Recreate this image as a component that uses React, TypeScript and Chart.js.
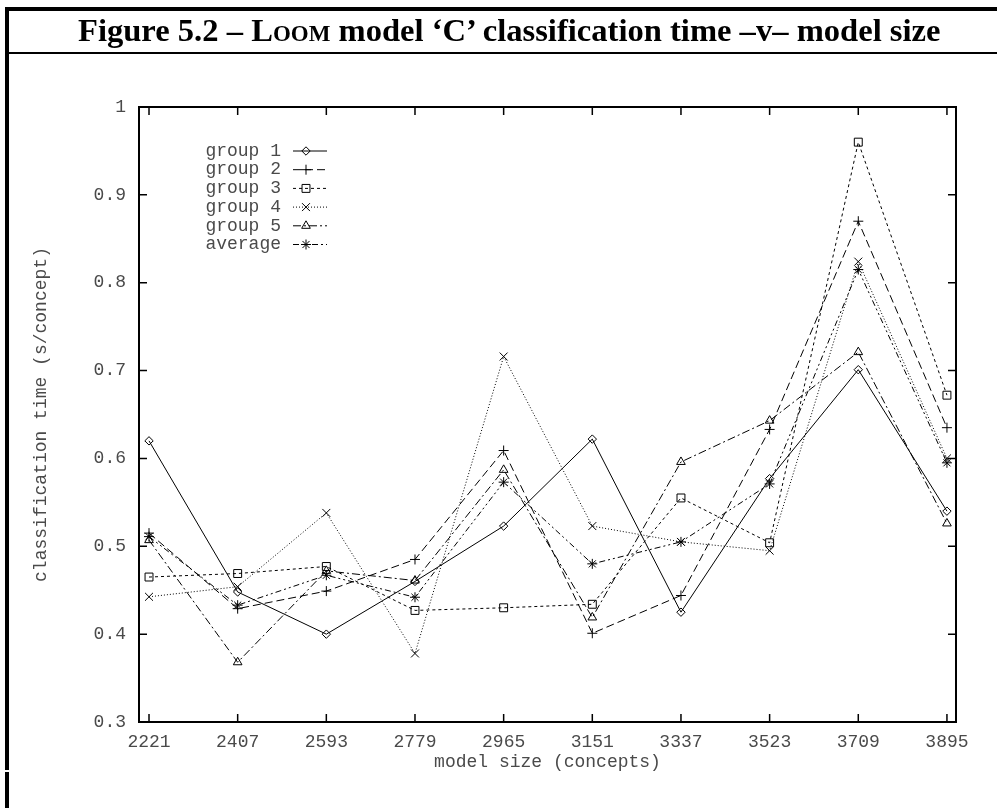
import React, { useEffect, useRef } from "react";
import { Chart, registerables } from "chart.js";

Chart.register(...registerables);

// ---- data ----
const xValues = [2221, 2407, 2593, 2779, 2965, 3151, 3337, 3523, 3709, 3895];
const xTickLabels = ["2221", "2407", "2593", "2779", "2965", "3151", "3337", "3523", "3709", "3895"];
const yTicks = [0.3, 0.4, 0.5, 0.6, 0.7, 0.8, 0.9, 1];
const yTickLabels = ["0.3", "0.4", "0.5", "0.6", "0.7", "0.8", "0.9", "1"];

const group1 = [0.62, 0.448, 0.4, 0.46, 0.523, 0.622, 0.425, 0.577, 0.701, 0.54];
const group2 = [0.515, 0.429, 0.449, 0.485, 0.609, 0.401, 0.444, 0.633, 0.87, 0.635];
const group3 = [0.465, 0.469, 0.477, 0.427, 0.43, 0.434, 0.555, 0.504, 0.96, 0.672];
const group4 = [0.4425, 0.454, 0.538, 0.378, 0.716, 0.523, 0.505, 0.495, 0.824, 0.6];
const group5 = [0.507, 0.368, 0.472, 0.461, 0.587, 0.419, 0.596, 0.643, 0.721, 0.526];
const average = [0.511, 0.433, 0.467, 0.442, 0.573, 0.48, 0.505, 0.571, 0.815, 0.595];

const seriesNames = ["group 1", "group 2", "group 3", "group 4", "group 5", "average"];
const seriesValues = [group1, group2, group3, group4, group5, average];
const seriesPoints = ["rectRot", "cross", "rect", "crossRot", "triangle", "star"];
const seriesRadius = [4.2, 5, 5.6, 5.6, 5, 5];
const seriesDash: number[][] = [[], [8, 4], [3, 3], [1, 2], [8, 3, 2, 3], [6, 3, 2, 3, 2, 3]];

const TEXT_COLOR = "#4a4a4a";
const MONO = "'Liberation Mono', 'DejaVu Sans Mono', monospace";

function drawMarker(ctx: CanvasRenderingContext2D, style: string, x: number, y: number, r: number) {
  ctx.beginPath();
  const d = Math.SQRT1_2 * r;
  switch (style) {
    case "rectRot":
      ctx.moveTo(x, y - r);
      ctx.lineTo(x + r, y);
      ctx.lineTo(x, y + r);
      ctx.lineTo(x - r, y);
      ctx.closePath();
      break;
    case "rect":
      ctx.rect(x - d, y - d, 2 * d, 2 * d);
      break;
    case "cross":
      ctx.moveTo(x - r, y);
      ctx.lineTo(x + r, y);
      ctx.moveTo(x, y - r);
      ctx.lineTo(x, y + r);
      break;
    case "crossRot":
      ctx.moveTo(x - d, y - d);
      ctx.lineTo(x + d, y + d);
      ctx.moveTo(x - d, y + d);
      ctx.lineTo(x + d, y - d);
      break;
    case "triangle": {
      for (let k = 0; k < 3; k++) {
        const a = (k * 2 * Math.PI) / 3;
        const px = x + Math.sin(a) * r;
        const py = y - Math.cos(a) * r;
        if (k === 0) ctx.moveTo(px, py);
        else ctx.lineTo(px, py);
      }
      ctx.closePath();
      break;
    }
    case "star":
      ctx.moveTo(x - r, y);
      ctx.lineTo(x + r, y);
      ctx.moveTo(x, y - r);
      ctx.lineTo(x, y + r);
      ctx.moveTo(x - d, y - d);
      ctx.lineTo(x + d, y + d);
      ctx.moveTo(x - d, y + d);
      ctx.lineTo(x + d, y - d);
      break;
  }
  ctx.stroke();
}

const framePlugin = {
  id: "gnuplotFrame",
  afterDraw(chart: any) {
    const { ctx, chartArea } = chart;
    const { left, right, top, bottom } = chartArea;
    const xs = chart.scales.x;
    const ys = chart.scales.y;
    ctx.save();
    ctx.strokeStyle = "#000";
    ctx.setLineDash([]);
    // ticks (inside, mirrored)
    ctx.lineWidth = 1.5;
    const tl = 8;
    ctx.beginPath();
    xValues.forEach((v) => {
      const px = xs.getPixelForValue(v);
      ctx.moveTo(px, bottom);
      ctx.lineTo(px, bottom - tl);
      ctx.moveTo(px, top);
      ctx.lineTo(px, top + tl);
    });
    yTicks.forEach((v) => {
      const py = ys.getPixelForValue(v);
      ctx.moveTo(left, py);
      ctx.lineTo(left + tl, py);
      ctx.moveTo(right, py);
      ctx.lineTo(right - tl, py);
    });
    ctx.stroke();
    // border
    ctx.lineWidth = 2;
    ctx.strokeRect(left, top, right - left, bottom - top);

    // legend
    ctx.font = `18px ${MONO}`;
    ctx.fillStyle = TEXT_COLOR;
    ctx.textAlign = "right";
    ctx.textBaseline = "middle";
    const rowY0 = 151;
    const rowGap = 18.7;
    seriesNames.forEach((name, i) => {
      const y = rowY0 + i * rowGap;
      ctx.fillText(name, 281, y);
      ctx.strokeStyle = "#000";
      ctx.lineWidth = 1;
      ctx.setLineDash(seriesDash[i]);
      ctx.beginPath();
      ctx.moveTo(293, y);
      ctx.lineTo(327, y);
      ctx.stroke();
      ctx.setLineDash([]);
      drawMarker(ctx, seriesPoints[i], 306, y, seriesRadius[i]);
    });
    ctx.restore();
  },
};

function ChartCanvas() {
  const ref = useRef<HTMLCanvasElement | null>(null);
  useEffect(() => {
    if (!ref.current) return;
    const datasets = seriesNames.map((name, i) => ({
      label: name,
      data: xValues.map((x, k) => ({ x, y: seriesValues[i][k] })),
      borderColor: "#000",
      borderWidth: 1,
      borderDash: seriesDash[i],
      pointStyle: seriesPoints[i],
      pointRadius: seriesRadius[i],
      pointBorderWidth: 1,
      pointBorderColor: "#000",
      pointBackgroundColor: "rgba(0,0,0,0)",
      fill: false,
      tension: 0,
    }));
    const chart = new Chart(ref.current, {
      type: "line",
      data: { datasets },
      plugins: [framePlugin],
      options: {
        responsive: false,
        animation: false,
        events: [],
        layout: { padding: { left: 0, right: 41, top: 107, bottom: 0 } },
        plugins: { legend: { display: false }, tooltip: { enabled: false }, title: { display: false } },
        scales: {
          x: {
            type: "linear",
            min: 2200,
            max: 3914,
            afterBuildTicks: (s: any) => {
              s.ticks = xValues.map((v) => ({ value: v }));
            },
            afterFit: (s: any) => {
              s.height = 86;
            },
            grid: { display: false, drawTicks: false },
            border: { display: false },
            ticks: {
              autoSkip: false,
              maxRotation: 0,
              padding: 9,
              color: TEXT_COLOR,
              font: { family: MONO, size: 18 },
              callback: (_v: any, i: number) => xTickLabels[i],
            },
            title: {
              display: true,
              text: "model size (concepts)",
              color: TEXT_COLOR,
              font: { family: MONO, size: 18 },
              padding: { top: 0, bottom: 35 },
            },
          },
          y: {
            type: "linear",
            min: 0.3,
            max: 1,
            afterBuildTicks: (s: any) => {
              s.ticks = yTicks.map((v) => ({ value: v }));
            },
            afterFit: (s: any) => {
              s.width = 139;
            },
            grid: { display: false, drawTicks: false },
            border: { display: false },
            ticks: {
              padding: 13,
              color: TEXT_COLOR,
              font: { family: MONO, size: 18 },
              callback: (_v: any, i: number) => yTickLabels[i],
            },
            title: {
              display: true,
              text: "classification time (s/concept)",
              color: TEXT_COLOR,
              font: { family: MONO, size: 18 },
              padding: { top: 30, bottom: 0 },
            },
          },
        },
      } as any,
    });
    return () => chart.destroy();
  }, []);
  return <canvas ref={ref} width={997} height={808} style={{ display: "block", width: 997, height: 808 }} />;
}

export default function App() {
  const bar = (s: React.CSSProperties) => <div style={{ position: "absolute", background: "#000", ...s }} />;
  return (
    <div style={{ position: "fixed", left: 0, top: 0, width: 997, height: 808, background: "#fff", overflow: "hidden" }}>
      <div style={{ position: "absolute", left: 0, top: 0 }}>
        <ChartCanvas />
      </div>
      {bar({ left: 5, top: 7, width: 992, height: 4 })}
      {bar({ left: 5, top: 52, width: 992, height: 2 })}
      {bar({ left: 5, top: 7, width: 4, height: 763 })}
      {bar({ left: 5, top: 772, width: 4, height: 36 })}
      <div
        style={{
          position: "absolute",
          left: 78,
          top: 14,
          whiteSpace: "nowrap",
          fontFamily: "'Liberation Serif', 'Times New Roman', serif",
          fontWeight: "bold",
          fontSize: 32.6,
          lineHeight: "33px",
          color: "#000",
        }}
      >
        Figure 5.2 – L<span style={{ fontVariant: "small-caps" }}>oom</span> model ‘C’ classification time –v– model size
      </div>
    </div>
  );
}
